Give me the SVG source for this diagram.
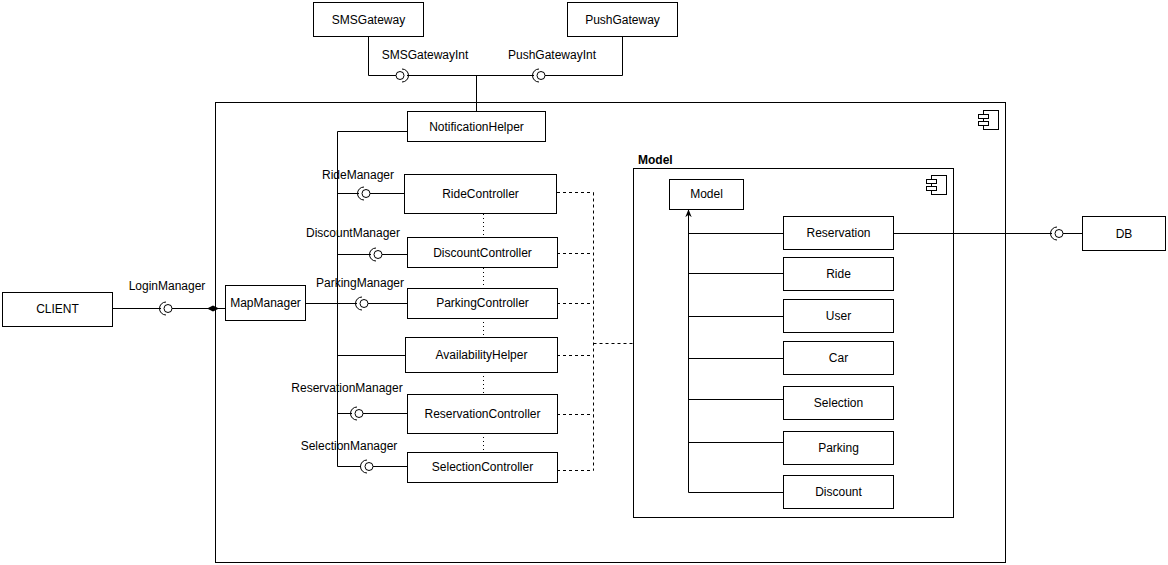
<svg xmlns="http://www.w3.org/2000/svg" width="1168" height="565" viewBox="0 0 1168 565">
<defs>
<style>
.b{fill:#fff;stroke:#000;stroke-width:1}
.c{fill:none;stroke:#000;stroke-width:1}
.t{font-family:"Liberation Sans",Arial,sans-serif;font-size:12px;fill:#000;text-anchor:middle}
.l{font-family:"Liberation Sans",Arial,sans-serif;font-size:12px;fill:#000}
.dash{fill:none;stroke:#000;stroke-width:1;stroke-dasharray:3,3}
.dot{fill:none;stroke:#000;stroke-width:1;stroke-dasharray:1,3}
.ball{fill:#fff;stroke:#000;stroke-width:1}
</style>
<marker id="arr" viewBox="0 0 10 10" refX="9" refY="5" markerWidth="8" markerHeight="8" orient="auto">
<path d="M0,1 L10,5 L0,9 L3,5 Z" fill="#000"/>
</marker>
<g id="compicon">
<rect x="5" y="0" width="15" height="19" fill="#fff" stroke="#000"/>
<rect x="0" y="4" width="10" height="4" fill="#fff" stroke="#000"/>
<rect x="0" y="11" width="10" height="4" fill="#fff" stroke="#000"/>
</g>
</defs>
<rect width="1168" height="565" fill="#fff"/>

<g id="main-component">
<rect class="b" x="215.5" y="102.5" width="790" height="460"/>
<use href="#compicon" x="978.5" y="110.5"/>
</g>

<g id="model-component">
<rect class="b" x="633.5" y="168.5" width="320" height="349"/>
<use href="#compicon" x="926.5" y="175.5"/>
<text class="l" x="638" y="164" font-weight="bold">Model</text>
</g>

<g id="connectors">
<!-- gateways -->
<path class="c" d="M368.5,36 V75.5 H396"/>
<path class="c" d="M407,75.5 H534"/>
<path class="c" d="M545,75.5 H622.5 V36"/>
<path class="c" d="M476.5,75.5 V111"/>
<circle class="ball" cx="400" cy="75.5" r="4"/>
<path class="c" d="M402,69 A6.5,6.5 0 0 1 402,82"/>
<circle class="ball" cx="541" cy="75.5" r="4"/>
<path class="c" d="M539,69 A6.5,6.5 0 0 0 539,82"/>

<!-- bus -->
<path class="c" d="M407,131.5 H337.5 V466.5 H361"/>
<path class="c" d="M305,303.5 H337.5"/>

<!-- Ride -->
<path class="c" d="M337.5,193.5 H359"/>
<path class="c" d="M370,193.5 H404"/>
<circle class="ball" cx="366" cy="193.5" r="4"/>
<path class="c" d="M364,187 A6.5,6.5 0 0 0 364,200"/>
<!-- Discount -->
<path class="c" d="M337.5,254.5 H371"/>
<path class="c" d="M382,254.5 H407"/>
<circle class="ball" cx="378" cy="254.5" r="4"/>
<path class="c" d="M376,248 A6.5,6.5 0 0 0 376,261"/>
<!-- Parking -->
<path class="c" d="M337.5,303.5 H357"/>
<path class="c" d="M368,303.5 H407"/>
<circle class="ball" cx="364" cy="303.5" r="4"/>
<path class="c" d="M362,297 A6.5,6.5 0 0 0 362,310"/>
<!-- Availability -->
<path class="c" d="M337.5,355.5 H405"/>
<!-- Reservation -->
<path class="c" d="M337.5,413.5 H352"/>
<path class="c" d="M363,413.5 H407"/>
<circle class="ball" cx="359" cy="413.5" r="4"/>
<path class="c" d="M357,407 A6.5,6.5 0 0 0 357,420"/>
<!-- Selection -->
<path class="c" d="M373,466.5 H407"/>
<circle class="ball" cx="369" cy="466.5" r="4"/>
<path class="c" d="M367,460 A6.5,6.5 0 0 0 367,473"/>

<!-- Login -->
<path class="c" d="M112,308.5 H161"/>
<path class="c" d="M172,308.5 H225"/>
<circle class="ball" cx="168" cy="308.5" r="4"/>
<path class="c" d="M166,302 A6.5,6.5 0 0 0 166,315"/>
<path d="M207,308.5 L213,305.5 L219,308.5 L213,311.5 Z" fill="#000"/>

<!-- dotted between controllers -->
<path class="dot" d="M483.5,214 V237"/>
<path class="dot" d="M483.5,268 V288"/>
<path class="dot" d="M483.5,318 V337"/>
<path class="dot" d="M483.5,372 V394"/>
<path class="dot" d="M483.5,433 V452"/>

<!-- dashed dependencies -->
<path class="dash" d="M557,192.5 H593.5"/>
<path class="dash" d="M557,253.5 H593.5"/>
<path class="dash" d="M557,303.5 H593.5"/>
<path class="dash" d="M557,355.5 H593.5"/>
<path class="dash" d="M557,414.5 H593.5"/>
<path class="dash" d="M557,470.5 H593.5"/>
<path class="dash" d="M593.5,192.5 V470.5"/>
<path class="dash" d="M593.5,343.5 H633"/>

<!-- model inheritance -->
<path class="c" d="M688.5,492.5 V210" marker-end="url(#arr)"/>
<path class="c" d="M688.5,233.5 H783"/>
<path class="c" d="M688.5,273.5 H783"/>
<path class="c" d="M688.5,316.5 H783"/>
<path class="c" d="M688.5,358.5 H783"/>
<path class="c" d="M688.5,399.5 H783"/>
<path class="c" d="M688.5,442.5 H783"/>
<path class="c" d="M688.5,492.5 H783"/>

<!-- DB -->
<path class="c" d="M893,233.5 H1052"/>
<path class="c" d="M1063,233.5 H1082"/>
<circle class="ball" cx="1059" cy="233.5" r="4"/>
<path class="c" d="M1057,227 A6.5,6.5 0 0 0 1057,240"/>
</g>

<g id="label-SMSGatewayInt"><text class="t" x="425" y="59">SMSGatewayInt</text></g>
<g id="label-PushGatewayInt"><text class="t" x="552" y="59">PushGatewayInt</text></g>
<g id="label-RideManager"><text class="t" x="358" y="179">RideManager</text></g>
<g id="label-DiscountManager"><text class="t" x="353" y="237">DiscountManager</text></g>
<g id="label-ParkingManager"><text class="t" x="360" y="287">ParkingManager</text></g>
<g id="label-ReservationManager"><text class="t" x="347" y="392">ReservationManager</text></g>
<g id="label-SelectionManager"><text class="t" x="349" y="450">SelectionManager</text></g>
<g id="label-LoginManager"><text class="t" x="167" y="290">LoginManager</text></g>

<g id="SMSGateway"><rect class="b" x="313.5" y="2.5" width="110" height="34"/><text class="t" x="368.5" y="24">SMSGateway</text></g>
<g id="PushGateway"><rect class="b" x="567.5" y="2.5" width="110" height="34"/><text class="t" x="622.5" y="24">PushGateway</text></g>
<g id="NotificationHelper"><rect class="b" x="407.5" y="111.5" width="138" height="30"/><text class="t" x="476.5" y="131">NotificationHelper</text></g>
<g id="RideController"><rect class="b" x="404.5" y="174.5" width="152" height="39"/><text class="t" x="480.5" y="198">RideController</text></g>
<g id="DiscountController"><rect class="b" x="407.5" y="237.5" width="150" height="30"/><text class="t" x="482.5" y="257">DiscountController</text></g>
<g id="ParkingController"><rect class="b" x="407.5" y="288.5" width="150" height="30"/><text class="t" x="482.5" y="307">ParkingController</text></g>
<g id="AvailabilityHelper"><rect class="b" x="405.5" y="337.5" width="152" height="35"/><text class="t" x="481.5" y="359">AvailabilityHelper</text></g>
<g id="ReservationController"><rect class="b" x="407.5" y="394.5" width="150" height="39"/><text class="t" x="482.5" y="418">ReservationController</text></g>
<g id="SelectionController"><rect class="b" x="407.5" y="452.5" width="150" height="30"/><text class="t" x="482.5" y="471">SelectionController</text></g>
<g id="MapManager"><rect class="b" x="225.5" y="285.5" width="80" height="35"/><text class="t" x="265.5" y="307">MapManager</text></g>
<g id="CLIENT"><rect class="b" x="2.5" y="292.5" width="110" height="34"/><text class="t" x="57.5" y="313">CLIENT</text></g>
<g id="Model"><rect class="b" x="669.5" y="179.5" width="74" height="30"/><text class="t" x="706.5" y="198">Model</text></g>
<g id="Reservation"><rect class="b" x="783.5" y="216.5" width="110" height="33"/><text class="t" x="838.5" y="237">Reservation</text></g>
<g id="Ride"><rect class="b" x="783.5" y="257.5" width="110" height="33"/><text class="t" x="838.5" y="278">Ride</text></g>
<g id="User"><rect class="b" x="783.5" y="299.5" width="110" height="33"/><text class="t" x="838.5" y="320">User</text></g>
<g id="Car"><rect class="b" x="783.5" y="341.5" width="110" height="33"/><text class="t" x="838.5" y="362">Car</text></g>
<g id="Selection"><rect class="b" x="783.5" y="386.5" width="110" height="33"/><text class="t" x="838.5" y="407">Selection</text></g>
<g id="Parking"><rect class="b" x="783.5" y="431.5" width="110" height="33"/><text class="t" x="838.5" y="452">Parking</text></g>
<g id="Discount"><rect class="b" x="783.5" y="475.5" width="110" height="33"/><text class="t" x="838.5" y="496">Discount</text></g>
<g id="DB"><rect class="b" x="1082.5" y="216.5" width="83" height="34"/><text class="t" x="1124" y="238">DB</text></g>
</svg>
